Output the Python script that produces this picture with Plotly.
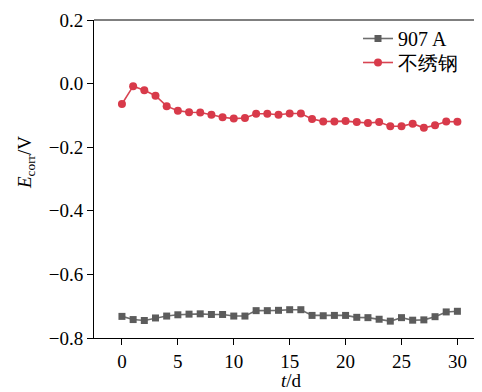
import plotly.graph_objects as go

days = list(range(0, 31))
steel_907A = [-0.732, -0.742, -0.745, -0.737, -0.731, -0.727, -0.725, -0.724, -0.726, -0.726,
              -0.731, -0.731, -0.714, -0.714, -0.713, -0.711, -0.711, -0.729, -0.730, -0.729,
              -0.729, -0.735, -0.736, -0.741, -0.747, -0.736, -0.744, -0.743, -0.733, -0.718, -0.716]
stainless = [-0.064, -0.008, -0.021, -0.038, -0.071, -0.085, -0.090, -0.091, -0.098, -0.106,
             -0.110, -0.108, -0.095, -0.095, -0.098, -0.094, -0.094, -0.111, -0.119, -0.119,
             -0.118, -0.121, -0.124, -0.121, -0.134, -0.134, -0.126, -0.139, -0.131, -0.119, -0.120]
names = ["907 A", "不绣钢"]
x_ticks = [0, 5, 10, 15, 20, 25, 30]
y_ticks = [0.2, 0.0, -0.2, -0.4, -0.6, -0.8]
y_tick_text = ["0.2", "0.0", "\u22120.2", "\u22120.4", "\u22120.6", "\u22120.8"]

font = "Liberation Serif, Times New Roman, serif"

fig = go.Figure()
fig.add_trace(go.Scatter(x=days, y=steel_907A, name=names[0], mode="lines+markers",
                         line=dict(color="#6e6e6e", width=1.6), legend="legend",
                         marker=dict(symbol="square", size=7, color="#5c5c5c")))
fig.add_trace(go.Scatter(x=days, y=stainless, name=names[1], mode="lines+markers",
                         line=dict(color="#d84452", width=1.6), legend="legend2",
                         marker=dict(symbol="circle", size=8, color="#d83a4a")))

PH = 318.0
PW = 388.0
leg_common = dict(xanchor="left", yanchor="top", bgcolor="rgba(0,0,0,0)",
                  font=dict(size=20, family=font))

fig.update_layout(
    # page body adds an 8px offset; figure sized so the plot area lands as in the reference
    width=474, height=384,
    margin=dict(l=86, r=0, t=12, b=54),
    paper_bgcolor="white", plot_bgcolor="white",
    font=dict(family=font, size=18, color="black"),
    showlegend=True,
    legend=dict(x=(358 - 94) / PW, y=1 + 1 / PH, **leg_common),
    legend2=dict(x=(358 - 94) / PW, y=1 - 23 / PH, **leg_common),
    xaxis=dict(range=[-2.5, 32.2], tickvals=x_ticks, ticks="outside", ticklen=6,
               tickwidth=1, tickcolor="black", showline=True, linecolor="black",
               linewidth=1, showgrid=False, zeroline=False, automargin=False,
               tickfont=dict(size=19)),
    yaxis=dict(range=[-0.8, 0.2], tickvals=y_ticks, ticktext=y_tick_text,
               ticks="outside", ticklen=6, tickwidth=1, tickcolor="black",
               showline=True, linecolor="black", linewidth=1, showgrid=False,
               zeroline=False, automargin=False, tickfont=dict(size=19)),
    annotations=[
        dict(text="<i>t</i>/d", xref="paper", yref="paper", x=(291 - 94) / PW,
             y=-(380 - 338) / PH, xanchor="center", yanchor="middle",
             showarrow=False, font=dict(size=19, family=font)),
        dict(text="<i>E</i><sub>corr</sub>/V", xref="paper", yref="paper",
             x=-(94 - 26) / PW, y=(338 - 163) / PH, xanchor="center", yanchor="middle",
             textangle=-90, showarrow=False, font=dict(size=19, family=font)),
    ],
)
fig.add_shape(type="line", xref="paper", yref="paper", x0=0, x1=1, y0=1, y1=1,
              line=dict(color="black", width=1))

fig.write_html("out.html")
